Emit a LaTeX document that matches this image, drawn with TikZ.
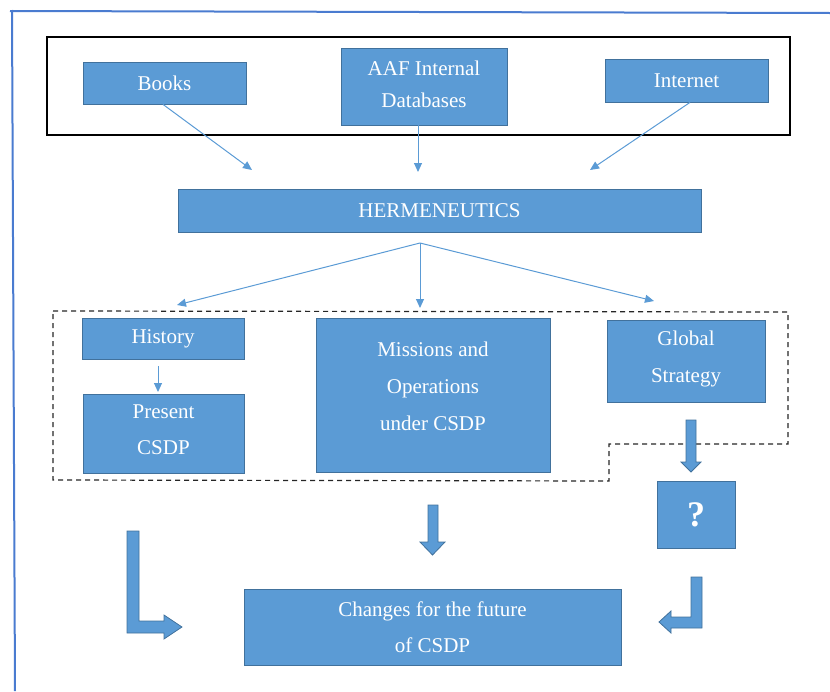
\documentclass[tikz,border=0pt]{standalone}
\usepackage{fontspec}
\setmainfont{Liberation Serif}
\usetikzlibrary{arrows.meta}
\definecolor{boxblue}{HTML}{5B9BD5}
\definecolor{boxedge}{HTML}{41719C}
\definecolor{framecol}{HTML}{4A7BD0}
\begin{document}
\begin{tikzpicture}[x=1pt,y=-1pt,
  bluebox/.style={rectangle, fill=boxblue, draw=boxedge, line width=0.8pt,
    text=white, inner sep=0pt, align=center,
    font=\fontsize{21}{37}\selectfont},
  thinarrow/.style={draw=boxblue, line width=1pt, -{Triangle[length=9pt,width=8pt]}},
  blockarrow/.style={fill=boxblue, draw=boxedge, line width=0.8pt, line join=miter},
  dashframe/.style={draw=black!85, line width=1.2pt, dash pattern=on 5pt off 4pt}
]
\useasboundingbox (0,0) rectangle (830,691);
% outer blue frame
\draw[framecol, line width=2pt] (10,11) -- (830,13);
\draw[framecol, line width=2pt] (12,10) -- (15,691);
% black source box
\draw[black, line width=2pt] (47,37) rectangle (790,135);

% source nodes
\node[bluebox, minimum width=163pt, minimum height=42pt] (books) at (164.5,83) {Books};
\node[bluebox, minimum width=166pt, minimum height=77pt, font=\fontsize{21}{32}\selectfont, text depth=4pt] (aaf) at (424,86.5) {AAF Internal\\Databases};
\node[bluebox, minimum width=163pt, minimum height=43pt] (inet) at (686.5,80.5) {Internet};

% hermeneutics
\node[bluebox, minimum width=523pt, minimum height=43pt] (herm) at (439.5,210.5) {HERMENEUTICS};

% middle nodes
\node[bluebox, minimum width=162pt, minimum height=41pt] (hist) at (163,338.5) {History};
\node[bluebox, minimum width=161pt, minimum height=79pt, font=\fontsize{21}{36}\selectfont, text depth=7pt] (pres) at (163.5,433.5) {Present\\CSDP};
\node[bluebox, minimum width=234pt, minimum height=154pt, text depth=18pt] (miss) at (433,395) {Missions and\\Operations\\under CSDP};
\node[bluebox, minimum width=158pt, minimum height=82pt, text depth=9pt] (glob) at (686,361) {Global\\Strategy};
\node[bluebox, minimum width=78pt, minimum height=67pt, font=\fontsize{36}{40}\selectfont\bfseries] (quest) at (696,514.5) {?};
\node[bluebox, minimum width=377pt, minimum height=76pt, font=\fontsize{21}{35.5}\selectfont] (chg) at (432.5,627) {Changes for the future\\of CSDP};

% dashed group frame
\draw[dashframe] (53,311) -- (788,312) -- (788,444) -- (609,444) -- (609,481) -- (53,480) -- cycle;

% free ends of thin connectors
\coordinate (e1) at (252,170);
\coordinate (e2) at (418,172);
\coordinate (e3) at (590,170);
\coordinate (hf) at (420,243);
\coordinate (f1) at (177,305);
\coordinate (f2) at (420,308);
\coordinate (f3) at (654,301);
\coordinate (hs) at (158,366);
\coordinate (ht) at (158,392);

\draw[thinarrow] ([xshift=-1.5pt]books.south) -- (e1);
\draw[thinarrow] ([xshift=-6pt]aaf.south) -- (e2);
\draw[thinarrow] ([xshift=3.5pt]inet.south) -- (e3);
\draw[thinarrow] (hf) -- (f1);
\draw[thinarrow] (hf) -- (f2);
\draw[thinarrow] (hf) -- (f3);
\draw[thinarrow] (hs) -- (ht);

% block arrows
% global -> ?
\draw[blockarrow] (686,420) -- (696,420) -- (696,462) -- (701,462) -- (691,472) -- (681,462) -- (686,462) -- cycle;
% missions -> changes
\draw[blockarrow] (428,505) -- (438,505) -- (438,542) -- (445,542) -- (432.5,555) -- (420,542) -- (428,542) -- cycle;
% left bent arrow
\draw[blockarrow] (127,531) -- (139,531) -- (139,621) -- (164,621) -- (164,615) -- (182,627) -- (164,639) -- (164,633) -- (127,633) -- cycle;
% right bent arrow
\draw[blockarrow] (691,577) -- (702,577) -- (702,628) -- (671,628) -- (671,633) -- (659,622) -- (671,611) -- (671,617) -- (691,617) -- cycle;
\end{tikzpicture}
\end{document}
